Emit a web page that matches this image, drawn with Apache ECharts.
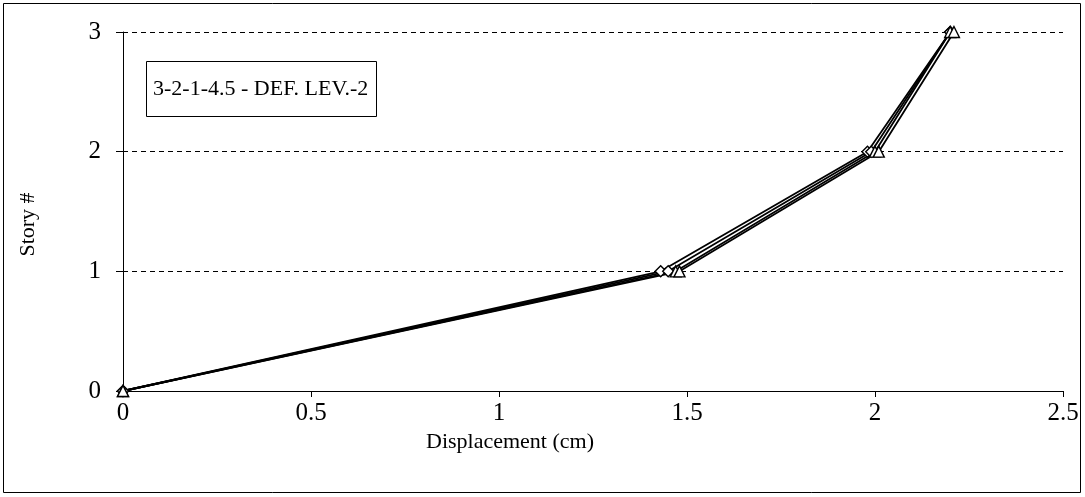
<!DOCTYPE html>
<html lang="en">
<head>
	<meta charset="UTF-8">
	<title>Story drift</title>
	<style>
		body { margin: 0; background: #fff; }
		#main { width: 1085px; height: 497px; }
	</style>
</head>
<body>
	<div id="main"></div>
	<script src="https://cdn.jsdelivr.net/npm/echarts@6/dist/echarts.min.js"></script>
	<script>
		// story levels
		var stories = [0, 1, 2, 3];
		// displacement (cm) per series
		var dispA = [0, 1.43, 1.98, 2.20];
		var dispB = [0, 1.45, 1.99, 2.20];
		var dispC = [0, 1.47, 2.00, 2.20];
		var dispD = [0, 1.48, 2.01, 2.21];
		var xTicks = [0, 0.5, 1, 1.5, 2, 2.5];
		var yTicks = [0, 1, 2, 3];

		var font = '"Liberation Serif", "Times New Roman", serif';

		function pairs(xs) {
			return xs.map(function (x, i) { return [x, stories[i]]; });
		}

		function line(name, xs, symbol) {
			return {
				name: name,
				type: 'line',
				data: pairs(xs),
				symbol: symbol,
				symbolSize: 11,
				lineStyle: { color: '#000', width: 1.8 },
				itemStyle: { color: '#fff', borderColor: '#000', borderWidth: 1.4 },
				z: 3
			};
		}

		var myChart = echarts.init(document.getElementById('main'));
		var option = {
			animation: false,
			backgroundColor: '#fff',
			graphic: [{
				type: 'rect',
				shape: { x: 3.5, y: 3.5, width: 1077, height: 489 },
				style: { fill: 'none', stroke: '#000', lineWidth: 1 },
				silent: true
			}],
			title: {
				text: '3-2-1-4.5 - DEF. LEV.-2',
				left: 146,
				top: 61,
				padding: [17, 8, 17, 7],
				borderColor: '#000',
				borderWidth: 1,
				backgroundColor: '#fff',
				textStyle: { fontFamily: font, fontSize: 22, fontWeight: 'normal', color: '#000' }
			},
			grid: { left: 123, right: 22, top: 32, bottom: 106 },
			xAxis: {
				type: 'value',
				min: 0,
				max: 2.5,
				interval: 0.5,
				name: 'Displacement (cm)',
				nameLocation: 'middle',
				nameGap: 40,
				nameTextStyle: { fontFamily: font, fontSize: 22, color: '#000', padding: [0, 166, 0, 0] },
				axisLine: { lineStyle: { color: '#000', width: 1 } },
				axisTick: { show: true, length: 6, lineStyle: { color: '#000' } },
				axisLabel: {
					fontFamily: font, fontSize: 25, color: '#000', margin: 10,
					formatter: function (v) { return xTicks.indexOf(v) >= 0 ? String(v) : ''; }
				},
				splitLine: { show: false }
			},
			yAxis: {
				type: 'value',
				min: 0,
				max: 3,
				interval: 1,
				name: 'Story #',
				nameLocation: 'middle',
				nameGap: 84,
				nameRotate: 90,
				nameTextStyle: { fontFamily: font, fontSize: 22, color: '#000', padding: [0, 26, 0, 0] },
				axisLine: { show: true, lineStyle: { color: '#000', width: 1 } },
				axisTick: { show: true, length: 7, lineStyle: { color: '#000' } },
				axisLabel: {
					fontFamily: font, fontSize: 25, color: '#000', margin: 22,
					formatter: function (v) { return yTicks.indexOf(v) >= 0 ? String(v) : ''; }
				},
				splitLine: { show: true, lineStyle: { color: '#000', type: [5, 4], width: 1 } }
			},
			series: [
				line('A', dispA, 'diamond'),
				line('B', dispB, 'diamond'),
				line('C', dispC, 'triangle'),
				line('D', dispD, 'triangle')
			]
		};

		myChart.setOption(option);
	</script>
</body>
</html>
